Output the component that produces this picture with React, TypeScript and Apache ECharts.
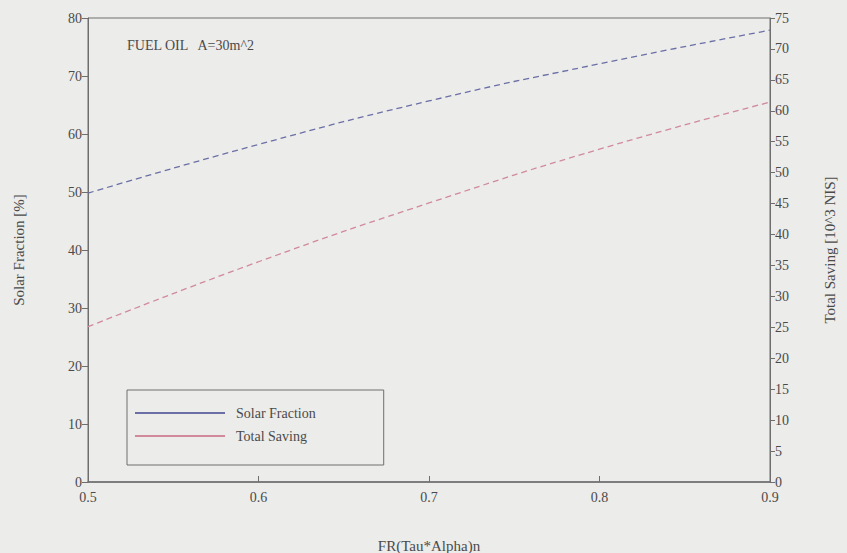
import React, { useEffect, useRef } from "react";
import * as echarts from "echarts";

// FR(Tau*Alpha)n values on the x axis
const xValues = [0.5, 0.6, 0.7, 0.8, 0.9];
// Solar fraction [%] (left axis)
const solarFraction = [49.8, 58.2, 65.7, 72.1, 77.9];
// Total saving [10^3 NIS] (right axis)
const totalSaving = [25.1, 35.6, 45.1, 53.8, 61.4];

const seriesNames = ["Solar Fraction", "Total Saving"];
const annotation = "FUEL OIL   A=30m^2";

const FONT = "'Liberation Serif', 'DejaVu Serif', serif";
const INK = "#4a4a4a";
const AXIS = "#6e6e6e";
const BLUE = "#6a6fa6";
const PINK = "#d08a9c";

export default function App() {
  const ref = useRef<HTMLDivElement>(null);

  useEffect(() => {
    if (!ref.current) return;
    const chart = echarts.init(ref.current, undefined, { renderer: "svg" });

    const axisLabel = { color: INK, fontFamily: FONT, fontSize: 14 };
    const nameStyle = { color: INK, fontFamily: FONT, fontSize: 15 };

    chart.setOption({
      animation: false,
      backgroundColor: "#ececea",
      grid: {
        left: 88,
        right: 77,
        top: 18,
        bottom: 71,
        outerBoundsMode: "none",
        show: true,
        borderColor: AXIS,
        borderWidth: 1,
        backgroundColor: "transparent",
      },
      graphic: [
        {
          type: "text",
          left: 127,
          top: 38,
          style: { text: annotation, fill: INK, font: `14px ${FONT}` },
        },
      ],
      legend: {
        orient: "vertical",
        left: 127,
        top: 390,
        padding: [16, 68, 22, 8],
        itemWidth: 90,
        itemHeight: 2,
        itemGap: 9,
        icon: "rect",
        borderColor: AXIS,
        borderWidth: 1,
        backgroundColor: "transparent",
        textStyle: {
          color: INK,
          fontFamily: FONT,
          fontSize: 14,
          lineHeight: 14,
          padding: [0, 0, 0, 6],
        },
        data: seriesNames,
      },
      xAxis: {
        type: "value",
        min: 0.5,
        max: 0.9,
        interval: 0.1,
        name: "FR(Tau*Alpha)n",
        nameLocation: "middle",
        nameGap: 56,
        nameTextStyle: nameStyle,
        axisLine: { show: true, lineStyle: { color: AXIS, width: 1.5 } },
        axisTick: { show: true, inside: true, length: 6, lineStyle: { color: AXIS } },
        axisLabel: { ...axisLabel, margin: 8, formatter: (v: number) => v.toFixed(1) },
        splitLine: { show: false },
      },
      yAxis: [
        {
          type: "value",
          min: 0,
          max: 80,
          interval: 10,
          name: "Solar Fraction [%]",
          nameLocation: "middle",
          nameGap: 62,
          nameTextStyle: nameStyle,
          axisLine: { show: true, lineStyle: { color: AXIS } },
          axisTick: { show: true, length: 6, lineStyle: { color: AXIS } },
          axisLabel: { ...axisLabel, margin: 6 },
          splitLine: { show: false },
        },
        {
          type: "value",
          min: 0,
          max: 75,
          interval: 5,
          position: "right",
          name: "Total Saving [10^3 NIS]",
          nameLocation: "middle",
          nameGap: 52,
          nameRotate: 90,
          nameTextStyle: nameStyle,
          axisLine: { show: true, lineStyle: { color: AXIS } },
          axisTick: { show: true, length: 5, lineStyle: { color: AXIS } },
          axisLabel: { ...axisLabel, margin: 5 },
          splitLine: { show: false },
        },
      ],
      series: [
        {
          name: seriesNames[0],
          type: "line",
          yAxisIndex: 0,
          smooth: true,
          symbol: "none",
          data: xValues.map((x, i) => [x, solarFraction[i]]),
          lineStyle: { color: BLUE, width: 1.3, type: [6, 4] },
          itemStyle: { color: BLUE },
        },
        {
          name: seriesNames[1],
          type: "line",
          yAxisIndex: 1,
          smooth: true,
          symbol: "none",
          data: xValues.map((x, i) => [x, totalSaving[i]]),
          lineStyle: { color: PINK, width: 1.3, type: [6, 4] },
          itemStyle: { color: PINK },
        },
      ],
    });

    return () => chart.dispose();
  }, []);

  return (
    <div
      ref={ref}
      style={{ position: "fixed", left: 0, top: 0, width: 847, height: 553 }}
    />
  );
}
